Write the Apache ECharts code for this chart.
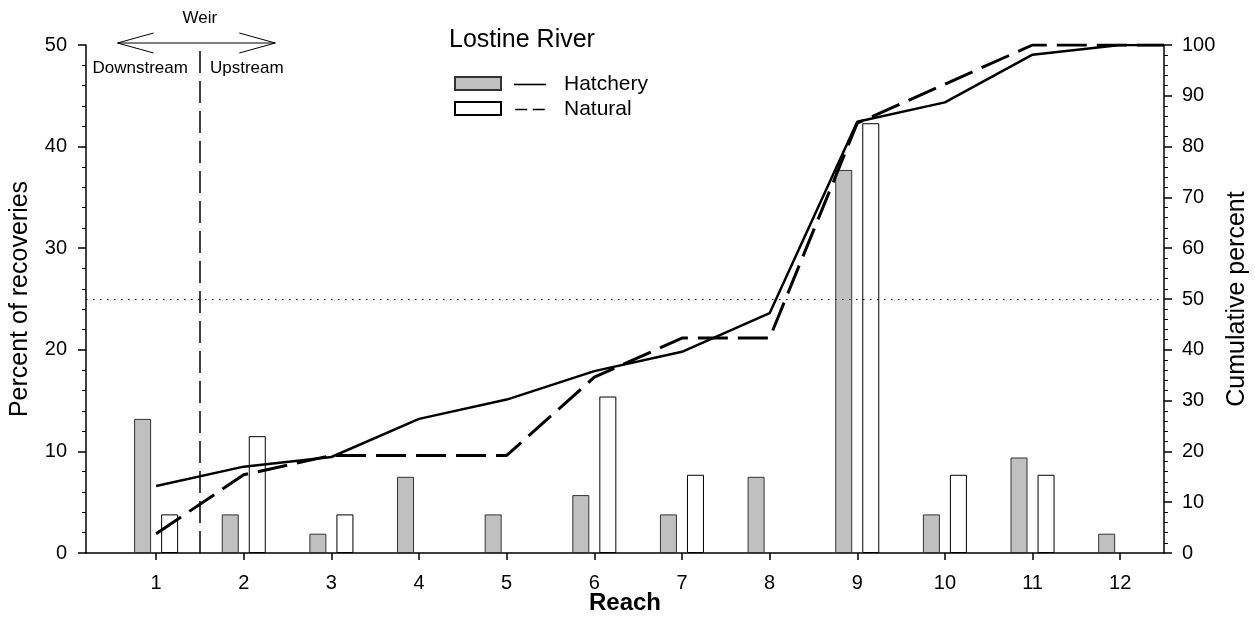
<!DOCTYPE html>
<html>
<head>
<meta charset="utf-8">
<script src="https://cdn.jsdelivr.net/npm/echarts@6/dist/echarts.min.js"></script>
<style>
  html, body { margin: 0; padding: 0; background: #fff; }
  #chart { width: 1255px; height: 617px; }
</style>
</head>
<body>
<div id="chart"></div>
<script>
// reaches along the Lostine River
var reaches = [1, 2, 3, 4, 5, 6, 7, 8, 9, 10, 11, 12];
// percent of recoveries per reach
var hatcheryPct = [13.2, 3.8, 1.9, 7.5, 3.8, 5.7, 3.8, 7.5, 37.7, 3.8, 9.4, 1.9];
var naturalPct = [3.8, 11.5, 3.8, 0, 0, 15.4, 7.7, 0, 42.3, 7.7, 7.7, 0];
// cumulative percent per reach
var hatcheryCum = [13.2, 17.0, 18.9, 26.4, 30.2, 35.8, 39.6, 47.2, 84.9, 88.7, 98.1, 100];
var naturalCum = [3.8, 15.4, 19.2, 19.2, 19.2, 34.6, 42.3, 42.3, 84.6, 92.3, 100, 100];
var reachEnd = 12.5;   // cumulative lines carry on to the end of the axis
var weirReach = 1.5;   // weir sits between reach 1 and 2
var halfCum = 50;      // 50 % cumulative

var FONT = 'Liberation Sans, Arial, sans-serif';

// bar pairs, empty reaches left out
function barPairs(ys) {
    var out = [];
    reaches.forEach(function (x, i) {
        if (ys[i] > 0) out.push([x, ys[i]]);
    });
    return out;
}
function cumPairs(ys) {
    var p = reaches.map(function (x, i) { return [x, ys[i]]; });
    p.push([reachEnd, ys[ys.length - 1]]);
    return p;
}

var chart = echarts.init(document.getElementById('chart'));

var option = {
    animation: false,
    backgroundColor: '#fff',
    textStyle: { fontFamily: FONT, color: '#000' },
    title: {
        text: 'Lostine River',
        left: 522,
        textAlign: 'center',
        top: 28,
        padding: 0,
        textStyle: { fontFamily: FONT, fontSize: 25, fontWeight: 'normal', color: '#000' }
    },
    legend: [{
        // bar swatches, no text
        data: ['Hatchery', 'Natural'],
        left: 454,
        top: 76,
        padding: 0,
        orient: 'vertical',
        icon: 'rect',
        itemWidth: 46,
        itemHeight: 13,
        itemGap: 10,
        selectedMode: false,
        formatter: function () { return ''; },
        textStyle: { fontSize: 10, lineHeight: 13 }
    }, {
        // line samples with the labels
        data: [
            { name: 'Hatchery cumulative', icon: 'path://M0,0H40V2H0Z' },
            { name: 'Natural cumulative', icon: 'path://M0,0H15V2H0ZM22,0H37V2H22Z' }
        ],
        left: 514,
        top: 74,
        padding: 0,
        orient: 'vertical',
        itemWidth: 40,
        itemHeight: 1.6,
        itemGap: 4,
        selectedMode: false,
        formatter: function (name) { return name.split(' ')[0]; },
        textStyle: { fontFamily: FONT, fontSize: 21, lineHeight: 21, color: '#000', padding: [0, 0, 0, 9] }
    }],
    grid: { left: 86, right: 91, top: 45, bottom: 64, outerBoundsMode: 'none' },
    xAxis: {
        type: 'value',
        min: 0.2,
        max: 12.5,
        name: 'Reach',
        nameLocation: 'middle',
        nameGap: 38,
        nameMoveOverlap: false,
        nameTextStyle: { fontFamily: FONT, fontSize: 24, fontWeight: 'bold', color: '#000' },
        axisLine: { show: true, lineStyle: { color: '#000', width: 1.5 } },
        axisTick: { show: true, customValues: reaches, length: 7, lineStyle: { color: '#000', width: 1.5 } },
        axisLabel: { customValues: reaches, fontSize: 20, color: '#000', margin: 20 },
        splitLine: { show: false }
    },
    yAxis: [{
        type: 'value',
        min: 0,
        max: 50,
        interval: 10,
        name: 'Percent of recoveries',
        nameLocation: 'middle',
        nameRotate: 90,
        nameGap: 53,
        nameMoveOverlap: false,
        nameTextStyle: { fontFamily: FONT, fontSize: 25, color: '#000' },
        axisLine: { show: true, lineStyle: { color: '#000', width: 1.5 } },
        axisTick: { show: true, length: 8, lineStyle: { color: '#000', width: 1.5 } },
        minorTick: { show: true, splitNumber: 5, length: 4, lineStyle: { color: '#000', width: 1 } },
        axisLabel: { fontSize: 20, color: '#000', margin: 19 },
        splitLine: { show: false }
    }, {
        type: 'value',
        position: 'right',
        min: 0,
        max: 100,
        interval: 10,
        name: 'Cumulative percent',
        nameLocation: 'middle',
        nameRotate: 90,
        nameGap: 61,
        nameMoveOverlap: false,
        nameTextStyle: { fontFamily: FONT, fontSize: 25, color: '#000' },
        axisLine: { show: true, lineStyle: { color: '#000', width: 1.5 } },
        axisTick: { show: true, length: 8, lineStyle: { color: '#000', width: 1.5 } },
        minorTick: { show: true, splitNumber: 5, length: 4, lineStyle: { color: '#000', width: 1 } },
        axisLabel: { fontSize: 20, color: '#000', margin: 18 },
        splitLine: { show: false }
    }],
    series: [{
        name: 'Hatchery',
        type: 'bar',
        yAxisIndex: 0,
        data: barPairs(hatcheryPct),
        barWidth: 17,
        barGap: '59%',
        itemStyle: { color: '#c0c0c0', borderColor: '#333', borderWidth: 1 }
    }, {
        name: 'Natural',
        type: 'bar',
        yAxisIndex: 0,
        data: barPairs(naturalPct),
        barWidth: 17,
        barGap: '59%',
        itemStyle: { color: '#fff', borderColor: '#000', borderWidth: 1 }
    }, {
        name: 'Hatchery cumulative',
        type: 'line',
        yAxisIndex: 1,
        z: 5,
        symbol: 'none',
        data: cumPairs(hatcheryCum),
        lineStyle: { color: '#000', width: 2.5, type: 'solid' },
        itemStyle: { color: '#000' },
        markLine: {
            silent: true,
            symbol: 'none',
            label: { show: false },
            data: [
                { xAxis: weirReach, lineStyle: { color: '#000', width: 1.5, type: [22, 8] } },
                { yAxis: halfCum, lineStyle: { color: '#000', width: 1, type: [1.5, 5.5] } }
            ]
        }
    }, {
        name: 'Natural cumulative',
        type: 'line',
        yAxisIndex: 1,
        z: 5,
        symbol: 'none',
        data: cumPairs(naturalCum),
        lineStyle: { color: '#000', width: 3, type: [30, 10] },
        itemStyle: { color: '#000' }
    }]
};

chart.setOption(option);

// weir annotation: double arrow and labels, placed through the axes
var wx = chart.convertToPixel({ xAxisIndex: 0 }, weirReach);
var ax0 = chart.convertToPixel({ xAxisIndex: 0 }, 0.56);
var ax1 = chart.convertToPixel({ xAxisIndex: 0 }, 2.36);
var ay = chart.convertToPixel({ yAxisIndex: 0 }, 50) - 2;
var head = 36, wing = 10;
var arrowStyle = { stroke: '#000', lineWidth: 1, fill: null };

chart.setOption({
    graphic: [
        { type: 'line', shape: { x1: ax0, y1: ay, x2: ax1, y2: ay }, style: arrowStyle, silent: true },
        { type: 'polyline', shape: { points: [[ax0 + head, ay - wing], [ax0, ay], [ax0 + head, ay + wing]] }, style: arrowStyle, silent: true },
        { type: 'polyline', shape: { points: [[ax1 - head, ay - wing], [ax1, ay], [ax1 - head, ay + wing]] }, style: arrowStyle, silent: true },
        { type: 'text', x: wx, y: 18, silent: true,
          style: { text: 'Weir', font: '17px ' + FONT, fill: '#000', align: 'center', verticalAlign: 'middle' } },
        { type: 'text', x: wx - 12, y: 68, silent: true,
          style: { text: 'Downstream', font: '17px ' + FONT, fill: '#000', align: 'right', verticalAlign: 'middle' } },
        { type: 'text', x: wx + 10, y: 68, silent: true,
          style: { text: 'Upstream', font: '17px ' + FONT, fill: '#000', align: 'left', verticalAlign: 'middle' } }
    ]
});
</script>
</body>
</html>
